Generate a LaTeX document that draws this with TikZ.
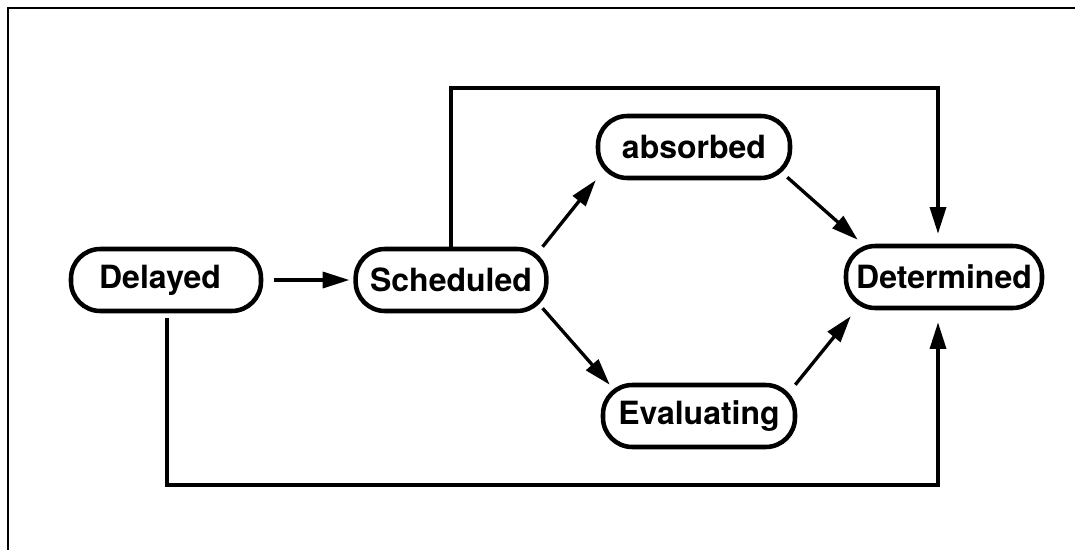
\documentclass[tikz,border=0pt]{standalone}
\usepackage{fontspec}
\setmainfont{TeX Gyre Heros}
\usetikzlibrary{arrows.meta,calc}
\begin{document}
\begin{tikzpicture}[x=0.75pt,y=-0.75pt,
  state/.style={draw,line width=3.4pt,rectangle,rounded corners=22pt,
    minimum height=46.5pt,inner sep=0pt,font=\bfseries\fontsize{24}{27}\selectfont},
  arr/.style={line width=2.5pt,-{Triangle[length=20pt,width=12pt]}},
  frame/.style={line width=2.2pt}]
  \useasboundingbox (0,0) rectangle (1075,550);
  % frame
  \draw[frame] (8,550) -- (8,8) -- (1075,8);
  % loop heights
  \coordinate (hi) at (0,88);
  \coordinate (lo) at (0,485);
  % states
  \node[state,minimum width=142.5pt] (del) at (166,280) {Delayed\kern 9pt};
  \node[state,minimum width=143pt]   (sch) at (451,280) {Scheduled};
  \node[state,minimum width=144pt]   (abs) at (694,147) {absorbed};
  \node[state,minimum width=144pt]   (eva) at (699,416) {Evaluating};
  \node[state,minimum width=147pt]   (det) at (944,277) {Determined};
  % loop end points
  \coordinate (dstart) at ($(del.south)+(1,5)$);
  \coordinate (dtop) at ($(det.north)+(-6,-10)$);
  \coordinate (dbot) at ($(det.south)+(-6,12)$);
  % transitions
  \draw[arr] ($(del.east)+(11,0)$) -- ($(sch.west)+(-4,0)$);
  \draw[arr] ($(sch.north east)+(-6,0)$) -- ($(abs.south west)+(0,0)$);
  \draw[arr] ($(abs.south east)+(-5,-3)$) -- ($(det.north west)+(14,-4)$);
  \draw[arr] ($(sch.south east)+(-6,-5)$) -- ($(eva.north west)+(9,2)$);
  \draw[arr] ($(eva.north east)+(-2,2)$) -- ($(det.south west)+(7,6)$);
  \draw[arr] (sch.north) -- (sch.north |- hi) -| (dtop);
  \draw[arr] (dstart) -- (dstart |- lo) -| (dbot);
\end{tikzpicture}
\end{document}
